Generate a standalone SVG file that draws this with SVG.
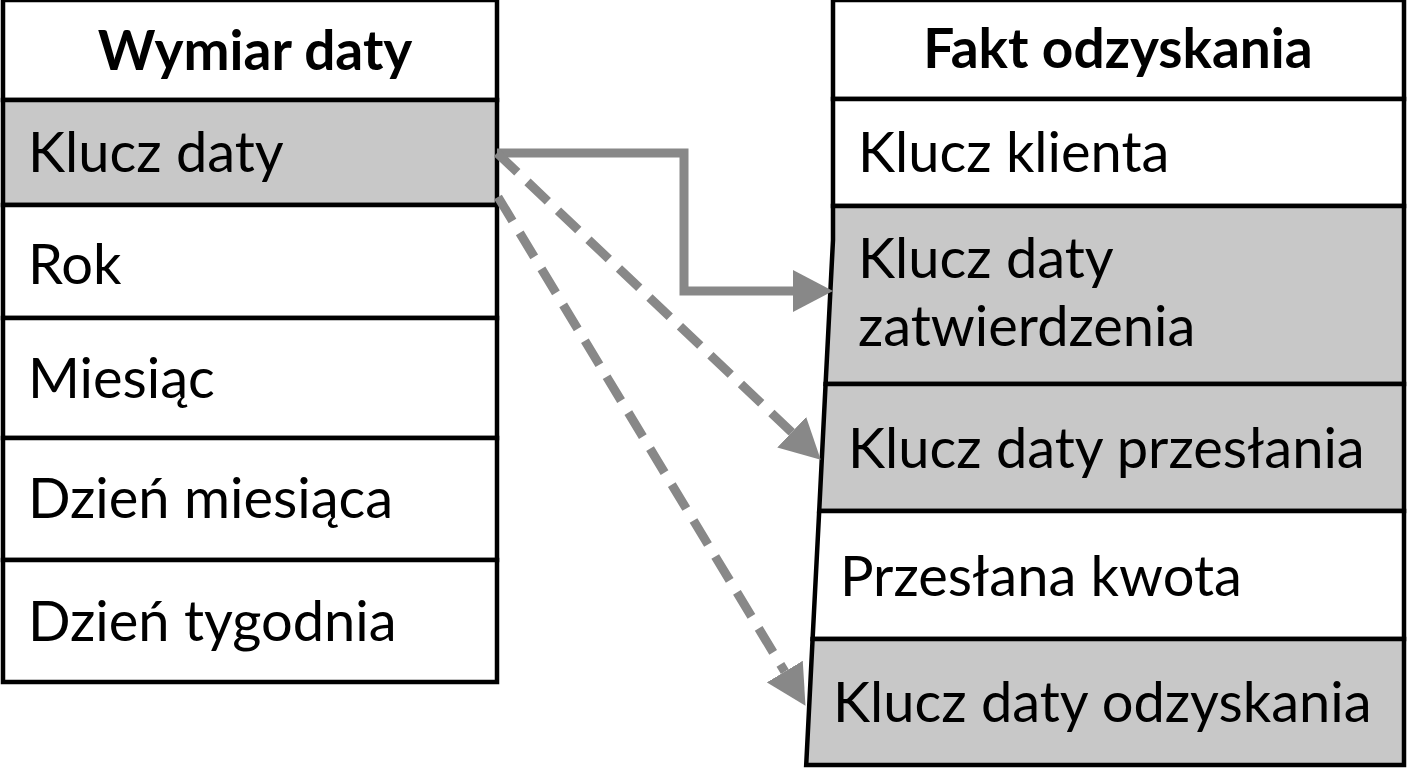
<svg xmlns="http://www.w3.org/2000/svg" width="1408" height="768" viewBox="0 0 1408 768">
<style>
.cell{stroke:#000;stroke-width:4.5;stroke-linejoin:miter}
.w{fill:#fff}
.g{fill:#c8c8c8}
.t{font-family:Lato,"Open Sans",sans-serif;font-size:56px;fill:#000}
.h{font-family:Lato,"Open Sans",sans-serif;font-size:55px;font-weight:bold;fill:#000;text-anchor:middle}
.c{fill:none;stroke:#888;stroke-width:9}
.d{stroke-dasharray:28 14}
</style>
<defs>
<marker id="ah" markerUnits="userSpaceOnUse" markerWidth="40" markerHeight="42" viewBox="0 0 40 42" refX="0" refY="21" orient="auto">
<path d="M0,0 L40,21 L0,42 Z" fill="#888"/>
</marker>
</defs>
<rect width="1408" height="768" fill="#fff"/>
<g id="wymiar-daty">
<rect class="cell w" x="3" y="0" width="494" height="100"/>
<rect class="cell g" x="3" y="100" width="494" height="105"/>
<rect class="cell w" x="3" y="205" width="494" height="113"/>
<rect class="cell w" x="3" y="318" width="494" height="120"/>
<rect class="cell w" x="3" y="438" width="494" height="122"/>
<rect class="cell w" x="3" y="560" width="494" height="122"/>
<text class="h" x="255" y="70">Wymiar daty</text>
<text class="t" x="28" y="172">Klucz daty</text>
<text class="t" x="28" y="284">Rok</text>
<text class="t" x="28" y="398">Miesiąc</text>
<text class="t" x="28" y="518">Dzień miesiąca</text>
<text class="t" x="28" y="641">Dzień tygodnia</text>
</g>
<g id="fakt-odzyskania">
<polygon class="cell w" points="833,0 1404,0 1404,99 833,99"/>
<polygon class="cell w" points="833,99 1404,99 1404,206 833,206"/>
<polygon class="cell g" points="833,206 1404,206 1404,384 825.6,384 833,240"/>
<polygon class="cell g" points="825.6,384 1404,384 1404,511 819.2,511"/>
<polygon class="cell w" points="819.2,511 1404,511 1404,639 812.6,639"/>
<polygon class="cell g" points="812.6,639 1404,639 1404,765 806.2,765"/>
<text class="h" x="1118" y="68">Fakt odzyskania</text>
<text class="t" x="858" y="172">Klucz klienta</text>
<text class="t" x="858" y="278">Klucz daty</text>
<text class="t" x="858" y="346">zatwierdzenia</text>
<text class="t" x="848" y="468">Klucz daty przesłania</text>
<text class="t" x="840" y="596">Przesłana kwota</text>
<text class="t" x="833" y="722">Klucz daty odzyskania</text>
</g>
<g id="connectors">
<path class="c" d="M497,153 H684 V291 H793" marker-end="url(#ah)"/>
<path class="c d" d="M497,153 L791.7,432.2" marker-end="url(#ah)"/>
<path class="c d" d="M498,197 L784.8,671.6" marker-end="url(#ah)"/>
</g>
</svg>
